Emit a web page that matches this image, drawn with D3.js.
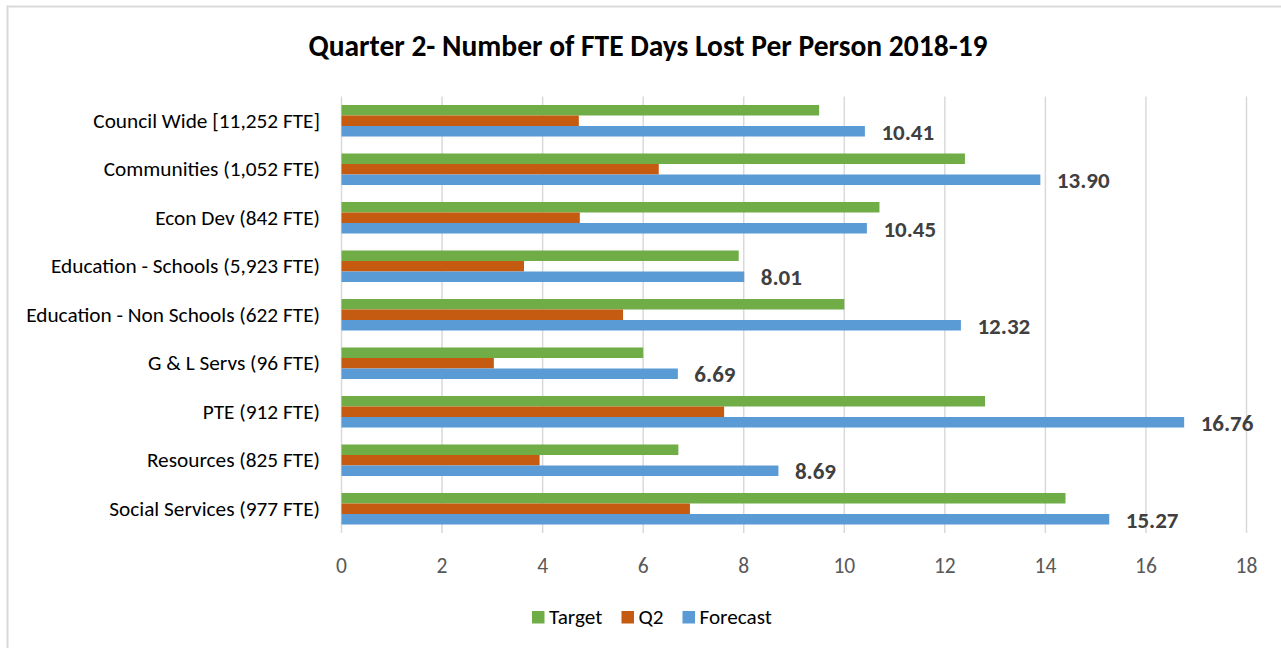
<!DOCTYPE html>
<html><head><meta charset="utf-8">
<script src="https://cdn.jsdelivr.net/npm/d3@7"></script>
<style>
html,body{margin:0;padding:0;background:#fff;}
svg{display:block;font-family:Carlito,Calibri,"Open Sans",sans-serif;}
</style></head>
<body><svg id="chart" width="1281" height="648"></svg>
<script>
const title = "Quarter 2- Number of FTE Days Lost Per Person 2018-19";
const categories = ["Council Wide [11,252 FTE]","Communities (1,052 FTE)","Econ Dev (842 FTE)","Education - Schools (5,923 FTE)","Education - Non Schools (622 FTE)","G & L Servs (96 FTE)","PTE (912 FTE)","Resources (825 FTE)","Social Services (977 FTE)"];
const seriesNames = ["Target","Q2","Forecast"];
const targetValues = [9.5,12.4,10.7,7.9,10.0,6.0,12.8,6.7,14.4];
const q2Values = [4.72,6.31,4.74,3.63,5.60,3.03,7.61,3.94,6.93];
const forecastValues = [10.41,13.90,10.45,8.01,12.32,6.69,16.76,8.69,15.27];
const xTicks = [0,2,4,6,8,10,12,14,16,18];
const colors = ["#70AD47","#C55A11","#5B9BD5"];

const svg = d3.select("#chart");
// outer border
svg.append("rect").attr("x",7.5).attr("y",6.5).attr("width",1290).attr("height",660)
  .attr("fill","#fff").attr("stroke","#d9d9d9").attr("stroke-width",2);

svg.append("text").attr("x",648).attr("y",56).attr("text-anchor","middle")
  .attr("font-size",29.5).attr("font-weight","bold").attr("fill","#000").text(title);

const x = d3.scaleLinear().domain([0,18]).range([341,1246]);
const y = d3.scaleBand().domain(categories).range([96.5,533]).paddingInner(0.35).paddingOuter(0.175);
const ySub = d3.scaleBand().domain(seriesNames).range([0,y.bandwidth()]);

// gridlines
const gx = svg.append("g").attr("transform","translate(0,533)")
  .call(d3.axisBottom(x).tickValues(xTicks).tickSize(-(533-96.5)).tickFormat(d=>d).tickSizeOuter(0));
gx.select(".domain").remove();
gx.selectAll(".tick line").attr("stroke","#d9d9d9").attr("stroke-width",1.5);
gx.selectAll(".tick text").attr("font-size",21.5).attr("fill","#595959")
  .attr("font-family","Carlito,Calibri,'Open Sans',sans-serif").attr("dy",0).attr("y",40);

// category axis
const gy = svg.append("g").attr("transform","translate(341,0)")
  .call(d3.axisLeft(y).tickSize(0).tickPadding(21));
gy.select(".domain").remove();
gy.selectAll(".tick text").attr("font-size",21.3).attr("fill","#000")
  .attr("font-family","Carlito,Calibri,'Open Sans',sans-serif");

const series = [targetValues,q2Values,forecastValues];
series.forEach((vals,si)=>{
  svg.append("g").selectAll("rect").data(categories).join("rect")
    .attr("x",x(0)+0.5)
    .attr("y",(c)=>y(c)+ySub(seriesNames[si]))
    .attr("width",(c,i)=>x(vals[i])-x(0))
    .attr("height",ySub.bandwidth())
    .attr("fill",colors[si]);
});

// data labels on forecast
svg.append("g").selectAll("text").data(categories).join("text")
  .attr("x",(c,i)=>x(forecastValues[i])+17)
  .attr("y",(c)=>y(c)+ySub("Forecast")+ySub.bandwidth()/2+8.5)
  .attr("font-size",23).attr("font-weight","bold").attr("fill","#404040")
  .text((c,i)=>forecastValues[i].toFixed(2));

// legend
const legendX = [532,621.5,682.5];
const lg = svg.append("g");
seriesNames.forEach((s,i)=>{
  lg.append("rect").attr("x",legendX[i]).attr("y",611).attr("width",12.5).attr("height",12.5).attr("fill",colors[i]);
  lg.append("text").attr("x",legendX[i]+17).attr("y",624).attr("font-size",21.2).attr("fill","#000").text(s);
});
</script></body></html>
